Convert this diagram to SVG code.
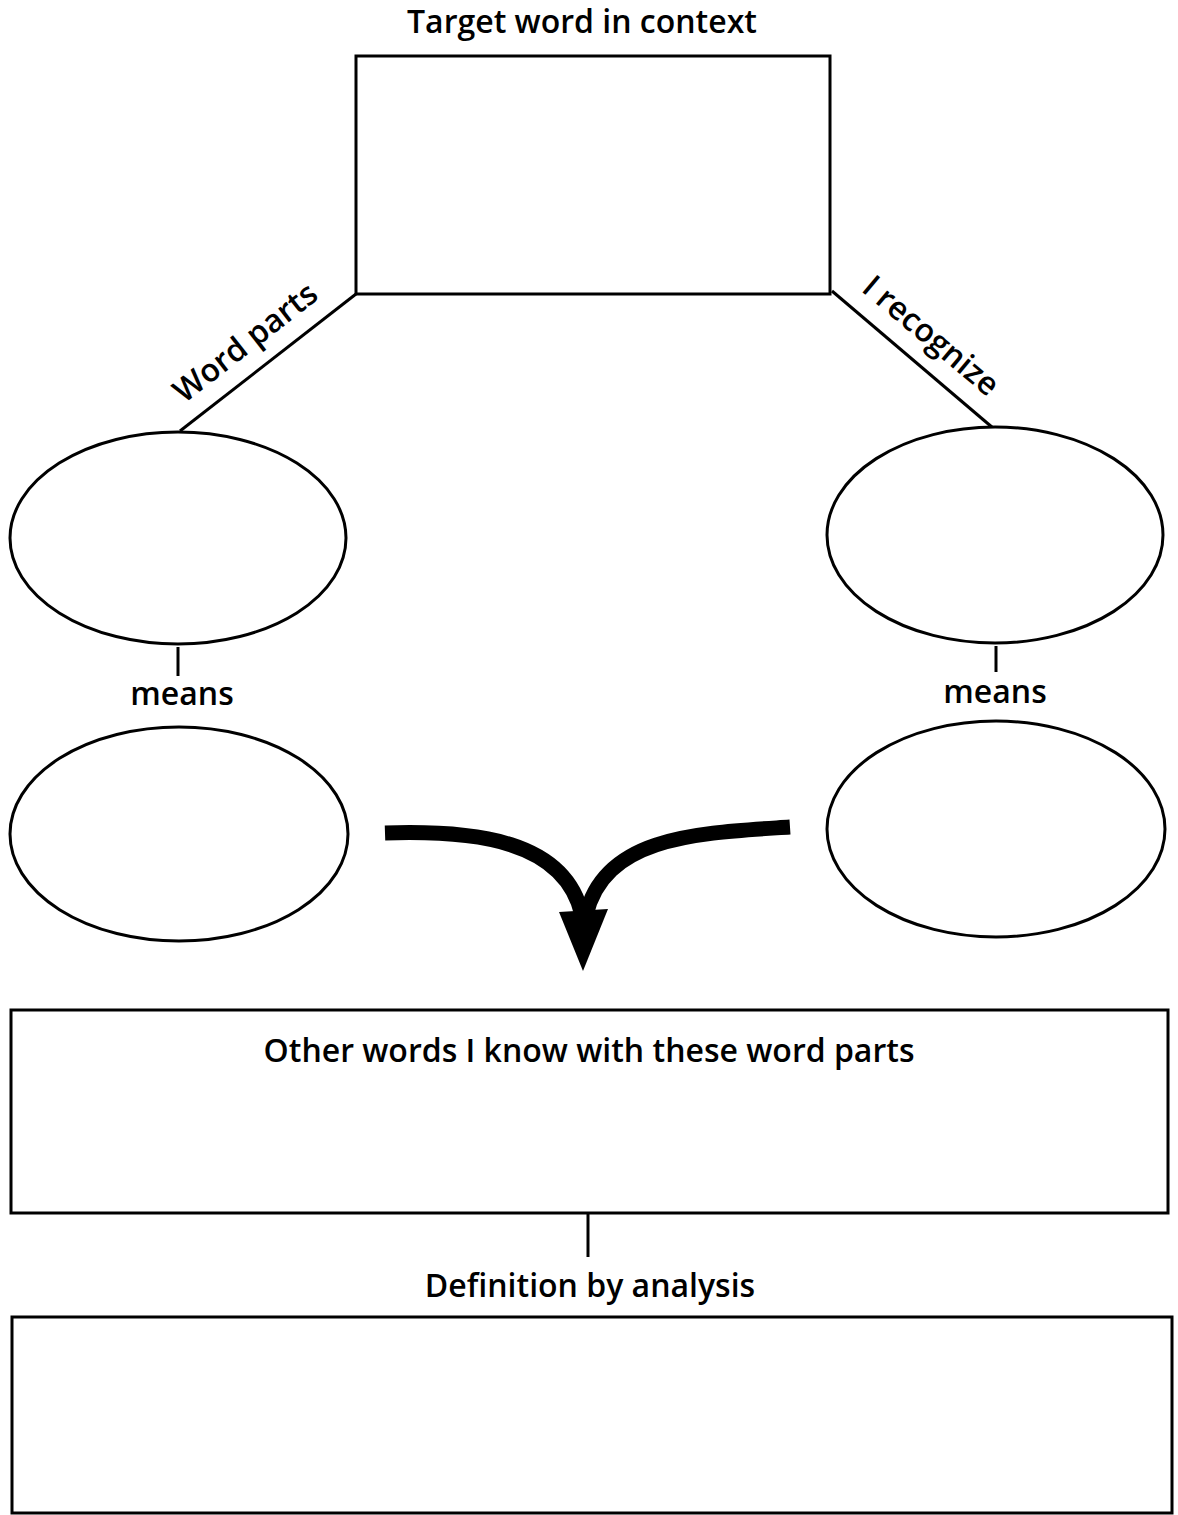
<svg xmlns="http://www.w3.org/2000/svg" width="1178" height="1515" viewBox="0 0 1178 1515">
<style>
.box{fill:#fff;stroke:#000;stroke-width:3}
.line{fill:none;stroke:#000;stroke-width:3}
.t{font-family:"Open Sans","Noto Sans",sans-serif;font-size:32px;font-weight:600;fill:#000;text-anchor:middle}
.arrow{fill:none;stroke:#000;stroke-width:15}
</style>
<rect width="1178" height="1515" fill="#fff"/>
<g id="connectors">
<line class="line" x1="356" y1="294" x2="180" y2="431"/>
<line class="line" x1="832" y1="291" x2="993" y2="428"/>
<line class="line" x1="178" y1="647" x2="178" y2="676"/>
<line class="line" x1="996" y1="646" x2="996" y2="672"/>
<line class="line" x1="588" y1="1213" x2="588" y2="1257"/>
<path class="arrow" d="M385,833 C475,830 565,840 582,915"/>
<path class="arrow" d="M790,827 C700,833 605,835 586,915"/>
<polygon points="559,912 608,909 583,971" fill="#000"/>
</g>
<g id="target">
<text class="t" x="582" y="33">Target word in context</text>
<rect class="box" x="356" y="56" width="474" height="238"/>
</g>
<g id="label-word-parts">
<text class="t" transform="translate(252,351) rotate(-38)">Word parts</text>
</g>
<g id="label-recognize">
<text class="t" transform="translate(924,344) rotate(40)">I recognize</text>
</g>
<g id="ellipse-left-1"><ellipse class="box" cx="178" cy="538" rx="168" ry="106"/></g>
<g id="ellipse-right-1"><ellipse class="box" cx="995" cy="535" rx="168" ry="108"/></g>
<g id="means-left"><text class="t" x="182" y="705">means</text></g>
<g id="means-right"><text class="t" x="995" y="703">means</text></g>
<g id="ellipse-left-2"><ellipse class="box" cx="179" cy="834" rx="169" ry="107"/></g>
<g id="ellipse-right-2"><ellipse class="box" cx="996" cy="829" rx="169" ry="108"/></g>
<g id="other-words">
<rect class="box" x="11" y="1010" width="1157" height="203"/>
<text class="t" x="589" y="1062">Other words I know with these word parts</text>
</g>
<g id="definition">
<text class="t" x="590" y="1297">Definition by analysis</text>
<rect class="box" x="12" y="1317" width="1160" height="196"/>
</g>
</svg>
